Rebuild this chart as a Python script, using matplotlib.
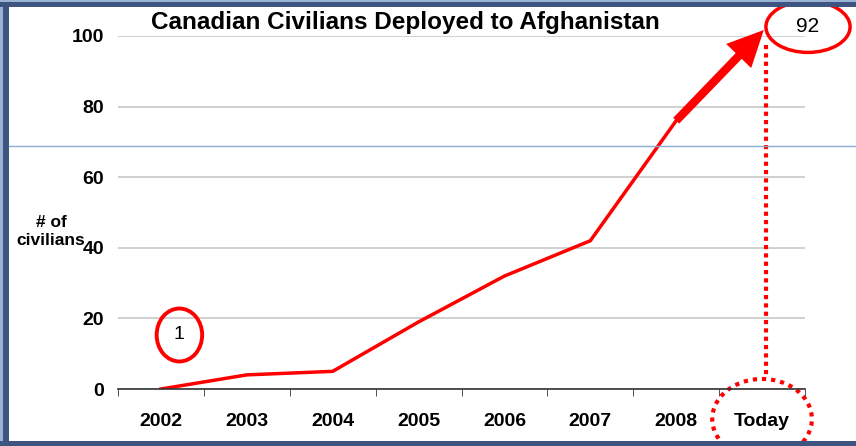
import matplotlib.pyplot as plt
from matplotlib.patches import Ellipse, Rectangle
from matplotlib.lines import Line2D

plt.rcParams['font.family'] = ['Liberation Sans', 'DejaVu Sans']

years = ['2002', '2003', '2004', '2005', '2006', '2007', '2008', 'Today']
civilians = [0, 4, 5, 19, 32, 42, 76]
today_value = 92
start_value = 1
yticks = [0, 20, 40, 60, 80, 100]

W, H = 856, 446
fig = plt.figure(figsize=(W / 100, H / 100), dpi=100)
ax = fig.add_axes([118 / W, 1 - 389 / H, (805 - 118) / W, (389 - 36) / H])

x = list(range(len(civilians)))
ax.plot(x, civilians, color='#ff0000', lw=2.5, solid_joinstyle='miter')

ax.set_xlim(-0.5, len(years) - 0.5)
ax.set_ylim(0, 100)
ax.set_yticks(yticks)
ax.set_yticklabels([str(v) for v in yticks], fontsize=14, fontweight='bold')
ax.set_xticks(range(len(years)))
ax.set_xticklabels(years, fontsize=14, fontweight='bold')
ax.set_xticks([i - 0.5 for i in range(len(years) + 1)], minor=True)
ax.tick_params(axis='x', which='major', length=0, pad=17)
ax.tick_params(axis='x', which='minor', length=5, direction='out', color='#333333')
ax.tick_params(axis='y', length=0, pad=10)
ax.grid(axis='y', color='#c8c8c8', lw=1.2)
ax.set_axisbelow(True)
for s in ['top', 'right', 'left']:
    ax.spines[s].set_visible(False)
ax.spines['bottom'].set_color('#333333')
ax.spines['bottom'].set_linewidth(1.2)

# thick arrow from 2008 up to today
last = len(civilians) - 1
ax.annotate('', xy=(7.02, 101.7), xytext=(last, civilians[-1]),
            arrowprops=dict(arrowstyle='simple,head_length=1.3,head_width=1.25,tail_width=0.3',
                            mutation_scale=20, color='#ff0000', lw=0,
                            shrinkA=0, shrinkB=0),
            annotation_clip=False)

# dotted drop line and circles
ax.plot([7.05, 7.05], [97.5, 3.5], color='#ff0000', lw=3, ls=(0, (1, 1)), clip_on=False)
ax.add_patch(Ellipse((7.0, -8.5), 1.16, 22.7, fill=False, ec='#ff0000', lw=3,
                     ls=(0, (1, 1.2)), clip_on=False))
ax.add_patch(Ellipse((7.535, 102.6), 0.98, 14.5, fill=False, ec='#ff0000', lw=2.5,
                     clip_on=False))
ax.text(7.535, 102.6, str(today_value), ha='center', va='center', fontsize=15)
ax.add_patch(Ellipse((0.215, 15.3), 0.53, 15.0, fill=False, ec='#ff0000', lw=2.8,
                     clip_on=False))
ax.text(0.215, 15.3, str(start_value), ha='center', va='center', fontsize=14)

fig.text(405 / W, 1 - 22 / H, 'Canadian Civilians Deployed to Afghanistan',
         ha='center', va='center', fontsize=17.5, fontweight='bold')
fig.text(51 / W, 1 - 231 / H, '# of\ncivilians', ha='center', va='center',
         fontsize=12.5, fontweight='bold', linespacing=1.25)

# slide frame
fig.add_artist(Line2D([9 / W, 1], [1 - 146 / H] * 2, color='#8eaad0', lw=1))
fig.add_artist(Rectangle((0, 0), 3 / W, 1, color='#9ab3d5', lw=0))
fig.add_artist(Rectangle((3 / W, 0), 6 / W, 1, color='#3d5580', lw=0))
fig.add_artist(Rectangle((0, 1 - 2 / H), 1, 2 / H, color='#9ab3d5', lw=0))
fig.add_artist(Rectangle((0, 1 - 7 / H), 1, 5 / H, color='#3d5580', lw=0))
fig.add_artist(Rectangle((0, 0), 1, 5 / H, color='#3d5580', lw=0))

fig.savefig('out.png', dpi=100)
